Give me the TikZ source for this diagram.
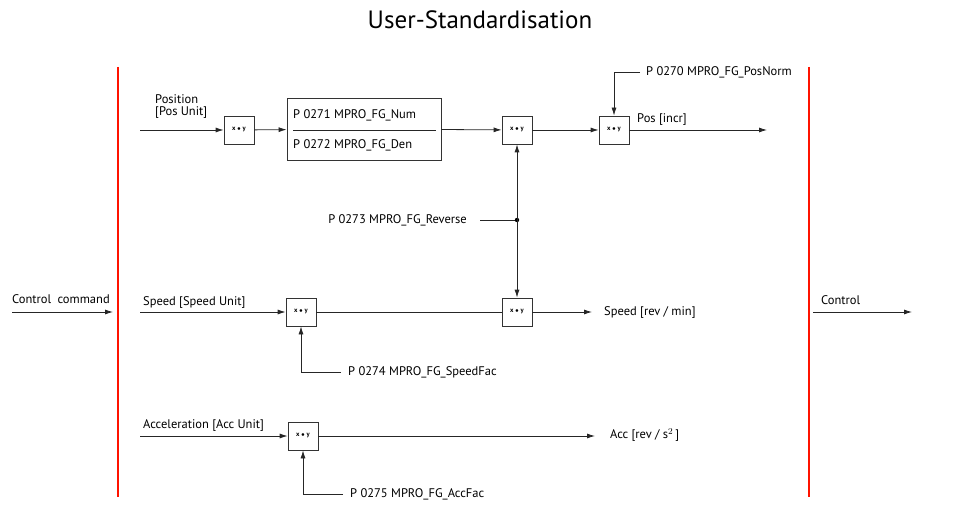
\documentclass[tikz,border=0pt]{standalone}
\usepackage{fontspec}
\setmainfont{PT Sans}
\usetikzlibrary{positioning, arrows.meta}

\begin{document}
\begin{tikzpicture}[
    x=1pt, y=-1pt,
    font=\fontsize{12.5}{14}\selectfont,
    >={Latex[length=8pt,width=5pt]},
    mul/.style={
        draw=black!80, line width=0.8pt,
        rectangle, minimum width=30pt, minimum height=28pt,
        inner sep=0pt, font=\fontsize{6.5}{7}\selectfont\bfseries
    },
    ratio/.style={
        draw=black!80, line width=0.8pt,
        rectangle, minimum width=154pt, minimum height=62pt,
        inner sep=0pt
    },
    arrow/.style={->, draw=black!85, line width=0.8pt},
    wire/.style={draw=black!85, line width=0.8pt},
    bus/.style={draw=red!85!orange, line width=2.2pt},
    param/.style={anchor=west, inner sep=0pt},
    lbl/.style={anchor=west, inner sep=0pt, align=left}
]
\useasboundingbox (0,0) rectangle (957,510);

% Title
\node[font=\fontsize{25}{28}\selectfont] (title) at (480,20) {User-Standardisation};

% Red bars
\draw[bus] (118,67) -- (118,497);
\draw[bus] (809,67) -- (809,497);

% Outer command in / out
\coordinate (cmdin) at (12,312);
\coordinate (cmdout) at (113,312);
\coordinate (ctlin) at (813,312);
\coordinate (ctlout) at (912,312);
\draw[arrow] (cmdin) -- (cmdout);
\draw[arrow] (ctlin) -- (ctlout);
\node[lbl] (cmdtxt) at (12,299) {Control\hspace{3pt} command};
\node[lbl] (ctltxt) at (821,300) {Control};

% Blocks
\node[mul] (mul1) at (239,130) {x $\bullet$ y};
\node[ratio] (num) at (364,129) {};
\draw[wire] (293,130) -- (436,130);
\node[lbl] (numtxt) at (293,115) {P 0271 MPRO\_FG\_Num};
\node[lbl] (dentxt) at (293,145) {P 0272 MPRO\_FG\_Den};
\node[mul] (mul2) at (517,130) {x $\bullet$ y};
\node[mul] (mul3) at (614,130) {x $\bullet$ y};
\node[mul] (mul4) at (517,312) {x $\bullet$ y};
\node[mul] (mul5) at (301,312) {x $\bullet$ y};
\node[mul] (mul6) at (303,436) {x $\bullet$ y};

% Parameters
\node[param] (posnorm) at (646,72) {P 0270 MPRO\_FG\_PosNorm};
\node[anchor=east, inner sep=0pt] (reverse) at (467,220) {P 0273 MPRO\_FG\_Reverse};
\node[param] (speedfac) at (348,372) {P 0274 MPRO\_FG\_SpeedFac};
\node[param] (accfac) at (350,494) {P 0275 MPRO\_FG\_AccFac};

% Free ends
\coordinate (posin) at (140,130);
\coordinate (posout) at (767,130);
\coordinate (spdin) at (140,312);
\coordinate (spdout) at (592,312);
\coordinate (accin) at (140,436);
\coordinate (accout) at (595,436);
\coordinate (revdot) at (517,220);

% Position path
\node[lbl, anchor=south west] (postxt) at (155,119) {Position\\[-2pt][Pos Unit]};
\draw[arrow] (posin) -- (mul1);
\draw[arrow] (mul1) -- (num);
\draw[arrow] (num) -- (mul2);
\draw[arrow] (mul2) -- (mul3);
\draw[arrow] (mul3) -- (posout);
\node[lbl] (pincr) at (637,120) {Pos [incr]};
\draw[arrow] ([xshift=-6pt]posnorm.west) -| (mul3.north);

% Reverse
\draw[wire] ([xshift=13pt]reverse.east) -- (revdot);
\fill[black] (revdot) circle (2.2pt);
\draw[arrow] (revdot) -- (mul2.south);
\draw[arrow] (revdot) -- (mul4.north);

% Speed path
\node[lbl] (spdunit) at (143,302) {Speed [Speed Unit]};
\draw[arrow] (spdin) -- (mul5);
\draw[wire] (mul5) -- (mul4);
\draw[arrow] (mul4) -- (spdout);
\node[lbl] (spdtxt) at (604,312) {Speed [rev / min]};
\draw[arrow] ([xshift=-7pt]speedfac.west) -| (mul5.south);

% Acceleration path
\node[lbl] (accunit) at (143,425) {Acceleration [Acc Unit]};
\draw[arrow] (accin) -- (mul6);
\draw[arrow] (mul6) -- (accout);
\node[lbl] (acctxt) at (610,435) {Acc [rev / s$^{2}$\,]};
\draw[arrow] ([xshift=-7pt]accfac.west) -| (mul6.south);

\end{tikzpicture}
\end{document}
